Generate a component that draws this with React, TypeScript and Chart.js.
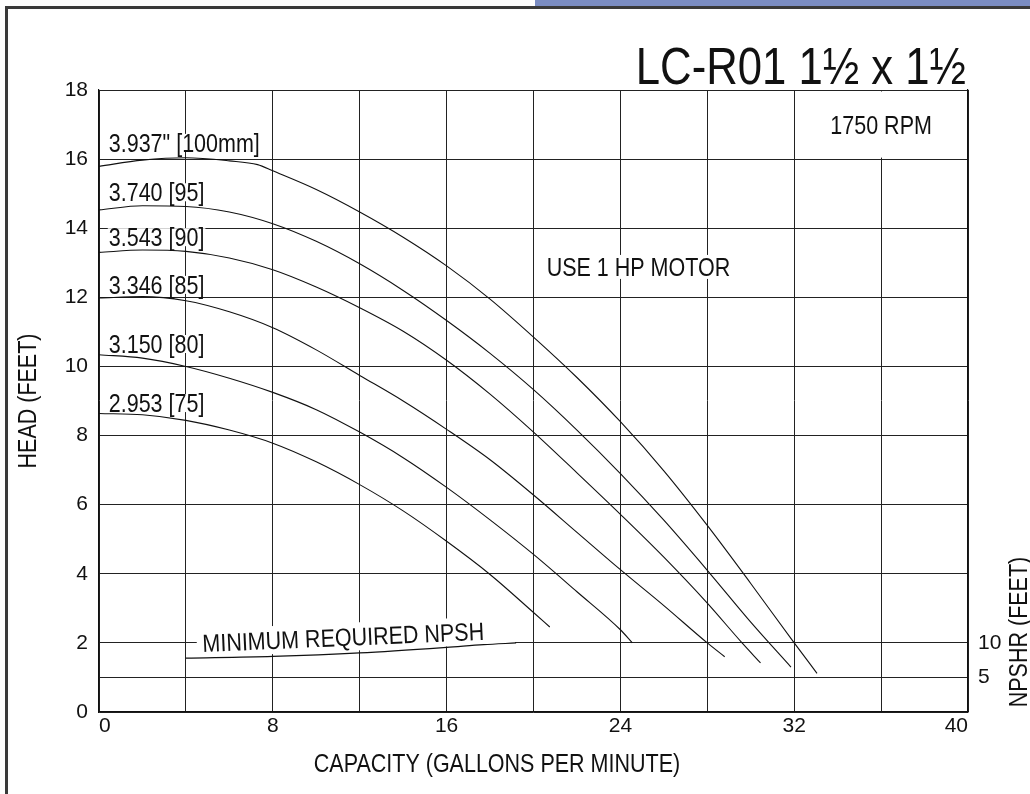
import React, { useEffect, useRef } from 'react';
import { Chart, registerables } from 'chart.js';

Chart.register(...registerables);

const FONT = "'Liberation Sans', Arial, sans-serif";
const NARROW = 0.86;
const TITLE_NARROW = 0.84;

// ---- data (capacity in GPM, head in feet) ----
const q100 = [0, 2, 4, 6, 7.3, 8, 10, 12, 14, 16, 18, 20, 22, 24, 26, 28, 30, 32, 33.05];
const h100 = [15.79, 15.97, 16.04, 15.95, 15.84, 15.66, 15.12, 14.47, 13.74, 12.91, 11.95, 10.85, 9.68, 8.4, 6.98, 5.4, 3.72, 2.0, 1.12];

const q95 = [0, 2, 4, 6, 8, 10, 12, 14, 16, 18, 20, 22, 24, 26, 28, 30, 31.85];
const h95 = [14.53, 14.65, 14.63, 14.47, 14.13, 13.62, 12.97, 12.2, 11.33, 10.38, 9.33, 8.16, 6.9, 5.55, 4.1, 2.6, 1.3];

const q90 = [0, 2, 4, 6, 8, 10, 12, 14, 16, 18, 20, 22, 24, 26, 28, 29.6, 30.45];
const h90 = [13.3, 13.37, 13.33, 13.14, 12.8, 12.3, 11.7, 11.02, 10.18, 9.2, 8.1, 6.92, 5.72, 4.48, 3.15, 2.0, 1.42];

const q85 = [0, 2, 4, 6, 8, 10, 12, 14, 16, 18, 20, 22, 24, 26, 28, 28.8];
const h85 = [11.98, 12.02, 11.9, 11.58, 11.12, 10.48, 9.74, 9.0, 8.18, 7.3, 6.28, 5.2, 4.12, 3.08, 2.0, 1.6];

const q80 = [0, 2, 4, 6, 8, 10, 12, 14, 16, 18, 20, 22, 24, 24.55];
const h80 = [10.34, 10.24, 10.0, 9.66, 9.25, 8.75, 8.1, 7.36, 6.5, 5.56, 4.56, 3.48, 2.38, 2.0];

const q75 = [0, 2, 4, 6, 8, 10, 12, 14, 16, 18, 20, 20.75];
const h75 = [8.64, 8.6, 8.44, 8.16, 7.78, 7.24, 6.58, 5.82, 4.94, 3.98, 2.88, 2.46];

// NPSHR curve (feet, right axis)
const npshQ = [4, 8, 12, 16, 17.7, 19.2];
const npshR = [7.8, 8.05, 8.55, 9.35, 9.75, 10.0];

// ---- ticks / labels ----
const xTickLabels = [0, 8, 16, 24, 32, 40];
const npshTicks = [5, 10];
const curveLabels = ['3.937" [100mm]', '3.740 [95]', '3.543 [90]', '3.346 [85]', '3.150 [80]', '2.953 [75]'];
const titleText = 'LC-R01 1½ x 1½';
const rpmText = '1750 RPM';
const motorText = 'USE 1 HP MOTOR';
const npshText = 'MINIMUM REQUIRED NPSH';
const xTitle = 'CAPACITY (GALLONS PER MINUTE)';
const yTitle = 'HEAD (FEET)';
const y2Title = 'NPSHR (FEET)';

// ---- label anchors (data coordinates) ----
const curveLabelX = 0.45;
const curveLabelHead = [16.47, 15.04, 13.74, 12.36, 10.65, 8.94];
const motorAt = { x: 24.83, y: 12.88 };
const rpmAt = { x: 36, y: 17.0 };
const npshAt = { x: 11.24, y: 2.17, angle: -2.5 };

const toPts = (q: number[], h: number[]) => q.map((v, i) => ({ x: v, y: h[i] }));

const LABEL_SIZE = 25;
const CAP = 0.358;

function nText(ctx: any, text: string, x: number, y: number, size: number, align: string, angle = 0, squeeze = NARROW) {
  ctx.save();
  ctx.translate(x, y);
  if (angle) ctx.rotate(angle);
  ctx.scale(squeeze, 1);
  ctx.font = `${size}px ${FONT}`;
  ctx.textAlign = align;
  ctx.textBaseline = 'alphabetic';
  ctx.fillText(text, 0, CAP * size);
  ctx.restore();
}

function nWidth(ctx: any, text: string, size: number) {
  ctx.save();
  ctx.font = `${size}px ${FONT}`;
  const w = ctx.measureText(text).width * NARROW;
  ctx.restore();
  return w;
}

const decor = {
  id: 'decor',
  beforeDraw(chart: any) {
    const { ctx, width, height } = chart;
    ctx.save();
    ctx.fillStyle = '#ffffff';
    ctx.fillRect(0, 0, width, height);
    ctx.fillStyle = '#3a3a3a';
    ctx.fillRect(5, 6, 3, height - 6);
    ctx.fillRect(5, 6, width - 5, 3);
    ctx.fillStyle = '#7b8dc3';
    ctx.fillRect(535, 0, width - 535, 6);
    ctx.restore();
  },
  beforeDatasetsDraw(chart: any) {
    const { ctx } = chart;
    const sx = chart.scales.x;
    const sy = chart.scales.y;
    const px = (v: number) => sx.getPixelForValue(v);
    const py = (v: number) => sy.getPixelForValue(v);
    ctx.save();
    ctx.fillStyle = '#ffffff';
    const bx0 = px(32) + 1.5, bx1 = px(40) - 1.5, by0 = py(18) + 1.5, by1 = py(16) - 1.5;
    ctx.fillRect(bx0, by0, bx1 - bx0, by1 - by0);
    curveLabels.forEach((t, i) => {
      const w = nWidth(ctx, t, LABEL_SIZE);
      const cy = py(curveLabelHead[i]);
      ctx.fillRect(px(curveLabelX) - 1, cy - 9, w + 2, 18);
    });
    {
      const w = nWidth(ctx, motorText, LABEL_SIZE);
      ctx.fillRect(px(motorAt.x) - w / 2 - 2, py(motorAt.y) - 12, w + 4, 24);
    }
    {
      const w = nWidth(ctx, npshText, LABEL_SIZE);
      ctx.save();
      ctx.translate(px(npshAt.x), py(npshAt.y));
      ctx.rotate((npshAt.angle * Math.PI) / 180);
      ctx.fillRect(-w / 2 - 3, -14, w + 6, 28);
      ctx.restore();
      const y2 = py(2);
      ctx.fillRect(px(4.5), y2 - 1.5, px(19.15) - px(4.5), 3);
    }
    ctx.restore();
  },
  afterDatasetsDraw(chart: any) {
    const { ctx, chartArea } = chart;
    const sx = chart.scales.x;
    const sy = chart.scales.y;
    const px = (v: number) => sx.getPixelForValue(v);
    const py = (v: number) => sy.getPixelForValue(v);
    ctx.save();
    ctx.fillStyle = '#111111';
    curveLabels.forEach((t, i) => {
      nText(ctx, t, px(curveLabelX), py(curveLabelHead[i]), LABEL_SIZE, 'left');
    });
    nText(ctx, motorText, px(motorAt.x), py(motorAt.y), LABEL_SIZE, 'center');
    nText(ctx, rpmText, px(rpmAt.x), py(rpmAt.y), LABEL_SIZE, 'center');
    nText(ctx, npshText, px(npshAt.x), py(npshAt.y), LABEL_SIZE, 'center', (npshAt.angle * Math.PI) / 180);

    nText(ctx, xTitle, 497, 763, LABEL_SIZE, 'center');
    nText(ctx, yTitle, 27, (chartArea.top + chartArea.bottom) / 2, LABEL_SIZE, 'center', -Math.PI / 2);
    nText(ctx, y2Title, 1018, 632, LABEL_SIZE, 'center', -Math.PI / 2);

    nText(ctx, titleText, chartArea.right - 2, 84 - CAP * 52, 52, 'right', 0, TITLE_NARROW);
    ctx.restore();
  },
};

export default function App() {
  const ref = useRef<HTMLCanvasElement | null>(null);
  useEffect(() => {
    if (!ref.current) return;
    const line = { borderColor: '#111111', borderWidth: 1.1, pointRadius: 0, showLine: true, fill: false, cubicInterpolationMode: 'monotone' as const };
    const grid = { color: '#222222', lineWidth: 1, drawTicks: false };
    const tickFont = { family: FONT, size: 21 };
    const chart = new Chart(ref.current, {
      type: 'scatter',
      data: {
        datasets: [
          { ...line, data: toPts(q100, h100) },
          { ...line, data: toPts(q95, h95) },
          { ...line, data: toPts(q90, h90) },
          { ...line, data: toPts(q85, h85) },
          { ...line, data: toPts(q80, h80) },
          { ...line, data: toPts(q75, h75) },
          { ...line, data: toPts(npshQ, npshR), yAxisID: 'y2' },
        ],
      },
      options: {
        animation: false,
        responsive: true,
        maintainAspectRatio: false,
        layout: { padding: { top: 90, left: 0, right: 0, bottom: 0 } },
        plugins: { legend: { display: false }, title: { display: false }, tooltip: { enabled: false } },
        events: [],
        scales: {
          x: {
            type: 'linear',
            min: 0,
            max: 40,
            grid,
            border: { display: true, color: '#111111', width: 1.2 },
            ticks: {
              stepSize: 4,
              autoSkip: false,
              maxRotation: 0,
              align: 'inner',
              padding: 2,
              color: '#111111',
              font: tickFont,
              callback: (v: any) => (xTickLabels.includes(Number(v)) ? String(v) : ''),
            },
            afterFit: (s: any) => { s.height = 82; },
          },
          y: {
            type: 'linear',
            position: 'left',
            min: 0,
            max: 18,
            grid,
            border: { display: true, color: '#111111', width: 1.2 },
            ticks: { stepSize: 2, padding: 11, color: '#111111', font: tickFont },
            afterFit: (s: any) => { s.width = 99; },
          },
          y2: {
            type: 'linear',
            position: 'right',
            min: 0,
            max: 90,
            grid: { ...grid, drawOnChartArea: true },
            border: { display: true, color: '#111111', width: 1.2 },
            afterBuildTicks: (s: any) => { s.ticks = npshTicks.map((v) => ({ value: v })); },
            ticks: { padding: 10, color: '#111111', font: tickFont, callback: (v: any) => String(v) },
            afterFit: (s: any) => { s.width = 62; },
          },
        },
      },
      plugins: [decor],
    } as any);
    return () => chart.destroy();
  }, []);
  return (
    <div style={{ position: 'fixed', left: 0, top: 0, width: 1030, height: 794, background: '#fff' }}>
      <canvas ref={ref} />
    </div>
  );
}
